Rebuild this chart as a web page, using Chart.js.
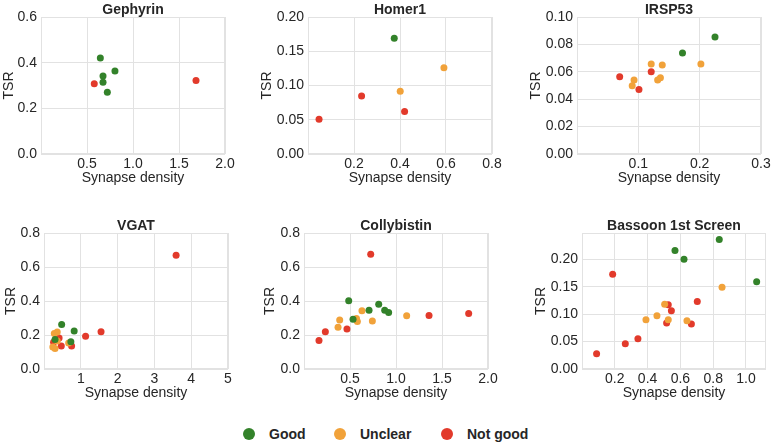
<!DOCTYPE html>
<html><head><meta charset="utf-8">
<script src="https://cdn.jsdelivr.net/npm/chart.js@4.4.1/dist/chart.umd.min.js"></script>
<style>
html,body{margin:0;padding:0;background:#fff;}
body{width:773px;height:446px;position:relative;overflow:hidden;font-family:'Liberation Sans',Arial,sans-serif;}
.panel{position:absolute;}
.legend-item{position:absolute;top:425px;height:18px;display:flex;align-items:center;font-weight:bold;font-size:14px;color:#262626;white-space:nowrap;}
.legend-dot{width:12px;height:12px;border-radius:50%;margin-right:14px;}
</style></head><body>
<script>
// ---------- data ----------
const classNames = ['Good', 'Unclear', 'Not good'];
const panelTitles = ['Gephyrin', 'Homer1', 'IRSP53', 'VGAT', 'Collybistin', 'Bassoon 1st Screen'];
const xAxisLabel = 'Synapse density';
const yAxisLabel = 'TSR';

const gephyrinGood = [[0.645,0.420],[0.674,0.342],[0.674,0.314],[0.804,0.364],[0.721,0.270]];
const gephyrinUnclear = [];
const gephyrinNotGood = [[0.579,0.308],[1.685,0.322]];

const homer1Good = [[0.375,0.169]];
const homer1Unclear = [[0.591,0.126],[0.401,0.0915]];
const homer1NotGood = [[0.233,0.0847],[0.42,0.0622],[0.048,0.0506]];

const irsp53Good = [[0.225,0.0854],[0.172,0.0737]];
const irsp53Unclear = [[0.202,0.0657],[0.121,0.0657],[0.139,0.065],[0.093,0.054],[0.090,0.0499],[0.136,0.0557],[0.1315,0.054]];
const irsp53NotGood = [[0.121,0.0601],[0.0696,0.0564],[0.101,0.047]];

const vgatGood = [[0.48,0.262],[0.82,0.223],[0.73,0.160],[0.30,0.174]];
const vgatUnclear = [[0.28,0.209],[0.36,0.218],[0.24,0.130],[0.30,0.120],[0.67,0.153],[0.36,0.165]];
const vgatNotGood = [[3.59,0.669],[1.55,0.219],[1.13,0.193],[0.41,0.183],[0.26,0.158],[0.47,0.136],[0.75,0.136]];

const collybistinGood = [[0.486,0.401],[0.812,0.381],[0.707,0.346],[0.877,0.346],[0.92,0.333],[0.533,0.292]];
const collybistinUnclear = [[0.63,0.342],[0.57,0.297],[0.58,0.280],[0.743,0.282],[0.388,0.288],[0.37,0.246],[1.116,0.313]];
const collybistinNotGood = [[0.725,0.675],[1.359,0.315],[1.79,0.327],[0.467,0.236],[0.232,0.219],[0.163,0.168]];

const bassoonGood = [[0.837,0.236],[0.567,0.216],[0.622,0.200],[1.065,0.159]];
const bassoonUnclear = [[0.854,0.149],[0.504,0.118],[0.457,0.097],[0.390,0.090],[0.526,0.090],[0.640,0.088]];
const bassoonNotGood = [[0.187,0.173],[0.703,0.123],[0.526,0.117],[0.545,0.106],[0.516,0.084],[0.667,0.082],[0.341,0.055],[0.264,0.046],[0.089,0.028]];

const gephyrinXTicks = ['0.5','1.0','1.5','2.0'];
const gephyrinYTicks = ['0.0','0.2','0.4','0.6'];
const homer1XTicks = ['0.2','0.4','0.6','0.8'];
const homer1YTicks = ['0.00','0.05','0.10','0.15','0.20'];
const irsp53XTicks = ['0.1','0.2','0.3'];
const irsp53YTicks = ['0.00','0.02','0.04','0.06','0.08','0.10'];
const vgatXTicks = ['1','2','3','4','5'];
const vgatYTicks = ['0.0','0.2','0.4','0.6','0.8'];
const collybistinXTicks = ['0.5','1.0','1.5','2.0'];
const collybistinYTicks = ['0.0','0.2','0.4','0.6','0.8'];
const bassoonXTicks = ['0.2','0.4','0.6','0.8','1.0'];
const bassoonYTicks = ['0.00','0.05','0.10','0.15','0.20'];

const gephyrinRange = [0, 2, 0, 0.6];
const homer1Range = [0, 0.8, 0, 0.2];
const irsp53Range = [0, 0.3, 0, 0.1];
const vgatRange = [0, 5, 0, 0.8];
const collybistinRange = [0, 2, 0, 0.8];
const bassoonRange = [0, 1.122, 0, 0.248];

// ---------- styles / layout ----------
const classColors = ['#33822a', '#f1a23a', '#e23a2b'];
const textColor = '#262626';
const gridColor = '#e2e2e2';
const fontFamily = "'Liberation Sans', Arial, sans-serif";
const plotW = 184, titleH = 17, xAxisH = 33, rightPad = 12;
// [containerLeft, containerTop, yAxisWidth, plotHeight]
const panelBoxes = [[1,0,40,137],[259,0,49,137],[528,0,49,137],[3,216,41,136],[262,216,42,136],[533,216,49,136]];
const legendLefts = [243, 334, 441];

const panels = [
  {good: gephyrinGood, unclear: gephyrinUnclear, bad: gephyrinNotGood, xt: gephyrinXTicks, yt: gephyrinYTicks, r: gephyrinRange},
  {good: homer1Good, unclear: homer1Unclear, bad: homer1NotGood, xt: homer1XTicks, yt: homer1YTicks, r: homer1Range},
  {good: irsp53Good, unclear: irsp53Unclear, bad: irsp53NotGood, xt: irsp53XTicks, yt: irsp53YTicks, r: irsp53Range},
  {good: vgatGood, unclear: vgatUnclear, bad: vgatNotGood, xt: vgatXTicks, yt: vgatYTicks, r: vgatRange},
  {good: collybistinGood, unclear: collybistinUnclear, bad: collybistinNotGood, xt: collybistinXTicks, yt: collybistinYTicks, r: collybistinRange},
  {good: bassoonGood, unclear: bassoonUnclear, bad: bassoonNotGood, xt: bassoonXTicks, yt: bassoonYTicks, r: bassoonRange}
];

const frameUnderPlugin = {
  id: 'frameUnder',
  beforeDatasetsDraw(chart) {
    const a = chart.chartArea, ctx = chart.ctx;
    ctx.save();
    ctx.strokeStyle = gridColor;
    ctx.lineWidth = 1;
    ctx.strokeRect(Math.round(a.left) + 0.5, Math.round(a.top) + 0.5, Math.round(a.right - a.left) - 1, Math.round(a.bottom - a.top) - 1);
    ctx.restore();
  }
};

function toPts(arr) { return arr.map(p => ({x: p[0], y: p[1]})); }

panels.forEach((p, i) => {
  const [cl, ct, wy, ph] = panelBoxes[i];
  const div = document.createElement('div');
  div.className = 'panel';
  div.style.left = cl + 'px';
  div.style.top = ct + 'px';
  div.style.width = (wy + plotW + rightPad) + 'px';
  div.style.height = (titleH + ph + xAxisH) + 'px';
  const cv = document.createElement('canvas');
  div.appendChild(cv);
  document.body.appendChild(div);

  const sets = [p.good, p.unclear, p.bad].map((d, k) => ({
    label: classNames[k],
    data: toPts(d),
    backgroundColor: classColors[k],
    borderColor: classColors[k],
    borderWidth: 0,
    pointRadius: 3.5,
    pointHoverRadius: 3.5
  }));

  new Chart(cv, {
    type: 'scatter',
    data: {datasets: sets},
    plugins: [frameUnderPlugin],
    options: {
      responsive: true,
      maintainAspectRatio: false,
      animation: false,
      layout: {padding: {left: 0, top: 0, bottom: 0, right: rightPad}},
      plugins: {
        legend: {display: false},
        tooltip: {enabled: false},
        title: {
          display: true, text: panelTitles[i], color: textColor, fullSize: false,
          font: {family: fontFamily, size: 14, weight: 'bold', lineHeight: 1},
          padding: {top: 3, bottom: 0}
        }
      },
      scales: {
        x: {
          type: 'linear', min: p.r[0], max: p.r[1],
          afterBuildTicks: s => { s.ticks = p.xt.map(t => ({value: parseFloat(t)})); },
          afterFit: s => { s.height = xAxisH; },
          ticks: {callback: (v, idx) => p.xt[idx], color: textColor, padding: 2, maxRotation: 0, autoSkip: false,
                  font: {family: fontFamily, size: 14}},
          grid: {color: gridColor, drawTicks: false, lineWidth: 1},
          border: {display: false},
          title: {display: true, text: xAxisLabel, color: textColor, padding: 0, font: {family: fontFamily, size: 14}}
        },
        y: {
          type: 'linear', min: p.r[2], max: p.r[3],
          afterBuildTicks: s => { s.ticks = p.yt.map(t => ({value: parseFloat(t)})); },
          afterFit: s => { s.width = wy; },
          ticks: {callback: (v, idx) => p.yt[idx], color: textColor, padding: 4, autoSkip: false,
                  font: {family: fontFamily, size: 14}},
          grid: {color: gridColor, drawTicks: false, lineWidth: 1},
          border: {display: false},
          title: {display: true, text: yAxisLabel, color: textColor, padding: 0, font: {family: fontFamily, size: 14}}
        }
      }
    }
  });
});

classNames.forEach((name, k) => {
  const item = document.createElement('div');
  item.className = 'legend-item';
  item.style.left = legendLefts[k] + 'px';
  const dot = document.createElement('span');
  dot.className = 'legend-dot';
  dot.style.background = classColors[k];
  const txt = document.createElement('span');
  txt.textContent = name;
  item.appendChild(dot);
  item.appendChild(txt);
  document.body.appendChild(item);
});
</script>
</body></html>
